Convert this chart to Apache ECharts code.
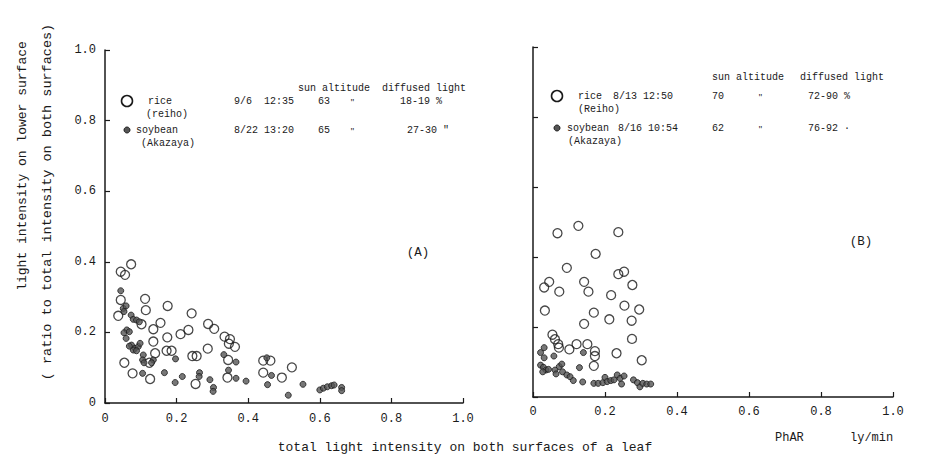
<!DOCTYPE html>
<html>
<head>
<meta charset="utf-8">
<script src="https://cdn.jsdelivr.net/npm/echarts@6/dist/echarts.min.js"></script>
<style>
html,body{margin:0;padding:0;background:#fff;}
#chart{width:935px;height:461px;}
</style>
</head>
<body>
<div id="chart"></div>
<script>
// ---- tick labels ----
const xTicks = ['0', '0.2', '0.4', '0.6', '0.8', '1.0'];
const yTicks = ['0', '0.2', '0.4', '0.6', '0.8', '1.0'];

// ---- panel (A): rice (Reiho) 9/6 12:35 ; soybean (Akazaya) 8/22 13:20 ----
const riceA = [
  [0.044,0.372],[0.056,0.363],[0.073,0.393],[0.044,0.292],[0.037,0.247],[0.112,0.295],
  [0.114,0.263],[0.102,0.223],[0.135,0.209],[0.155,0.227],[0.175,0.275],[0.135,0.174],
  [0.174,0.186],[0.140,0.141],[0.124,0.114],[0.172,0.148],[0.186,0.148],[0.054,0.114],
  [0.077,0.084],[0.126,0.068],[0.211,0.195],[0.233,0.207],[0.242,0.254],[0.244,0.133],
  [0.256,0.133],[0.253,0.054],[0.288,0.224],[0.305,0.210],[0.287,0.154],[0.334,0.188],
  [0.349,0.181],[0.346,0.168],[0.363,0.159],[0.344,0.122],[0.342,0.072],[0.442,0.120],
  [0.462,0.120],[0.442,0.086],[0.494,0.072],[0.522,0.101]
];
const soyA = [
  [0.044,0.318],[0.051,0.268],[0.059,0.275],[0.053,0.259],[0.073,0.249],[0.079,0.237],
  [0.088,0.235],[0.096,0.230],[0.061,0.207],[0.053,0.199],[0.068,0.202],[0.059,0.183],
  [0.074,0.164],[0.084,0.155],[0.093,0.160],[0.079,0.150],[0.088,0.148],[0.098,0.169],
  [0.068,0.161],[0.107,0.136],[0.105,0.122],[0.109,0.114],[0.135,0.122],[0.130,0.114],
  [0.105,0.084],[0.166,0.086],[0.197,0.125],[0.216,0.075],[0.196,0.058],[0.264,0.086],
  [0.263,0.075],[0.293,0.066],[0.303,0.044],[0.302,0.033],[0.332,0.137],[0.345,0.093],
  [0.366,0.116],[0.366,0.070],[0.394,0.062],[0.452,0.128],[0.465,0.078],[0.454,0.052],
  [0.512,0.022],[0.553,0.053],[0.600,0.037],[0.610,0.042],[0.621,0.046],[0.633,0.049],
  [0.640,0.051],[0.661,0.044],[0.661,0.035]
];

// ---- panel (B): rice (Reiho) 8/13 12:50 ; soybean (Akazaya) 8/16 10:54 ----
const riceB = [
  [0.126,0.489],[0.068,0.468],[0.237,0.471],[0.174,0.409],[0.094,0.369],[0.031,0.313],
  [0.045,0.329],[0.073,0.301],[0.142,0.329],[0.154,0.301],[0.237,0.351],[0.253,0.358],
  [0.276,0.320],[0.217,0.291],[0.033,0.247],[0.169,0.241],[0.254,0.261],[0.295,0.250],
  [0.212,0.222],[0.274,0.218],[0.142,0.209],[0.054,0.178],[0.061,0.165],[0.070,0.151],
  [0.072,0.141],[0.101,0.136],[0.121,0.151],[0.151,0.151],[0.172,0.131],[0.172,0.117],
  [0.169,0.089],[0.232,0.125],[0.275,0.166],[0.302,0.105]
];
const soyB = [
  [0.031,0.141],[0.021,0.127],[0.031,0.112],[0.058,0.117],[0.140,0.127],[0.021,0.091],
  [0.029,0.085],[0.036,0.077],[0.027,0.072],[0.043,0.079],[0.061,0.077],[0.064,0.066],
  [0.073,0.087],[0.080,0.094],[0.082,0.072],[0.094,0.063],[0.103,0.058],[0.112,0.047],
  [0.129,0.084],[0.138,0.043],[0.169,0.039],[0.181,0.039],[0.194,0.041],[0.200,0.056],
  [0.206,0.044],[0.216,0.047],[0.225,0.049],[0.234,0.063],[0.242,0.053],[0.246,0.037],
  [0.253,0.060],[0.279,0.049],[0.290,0.041],[0.297,0.029],[0.305,0.039],[0.316,0.037],
  [0.327,0.037]
];

// ---- legend table texts ----
const legendA = {
  head: ['sun altitude', 'diffused light'],
  rice: ['rice', '(reiho)', '9/6  12:35', '63', '"', '18-19 %'],
  soy:  ['soybean', '(Akazaya)', '8/22 13:20', '65', '"', '27-30 "']
};
const legendB = {
  head: ['sun altitude', 'diffused light'],
  rice: ['rice', '(Reiho)', '8/13 12:50', '70', '"', '72-90 %'],
  soy:  ['soybean', '(Akazaya)', '8/16 10:54', '62', '"', '76-92 \u00b7']
};

const FONT = '"Liberation Mono", "DejaVu Sans Mono", monospace';
const INK = '#1a1a1a';

const chart = echarts.init(document.getElementById('chart'), null, {renderer: 'svg', width: 935, height: 461});

function xAxisCfg(gi, margin) {
  return {
    type: 'value', gridIndex: gi, min: 0, max: 1, interval: 0.2,
    axisLine: {show: true, onZero: false, lineStyle: {color: INK, width: 1.5}},
    axisTick: {show: true, inside: true, length: 5, lineStyle: {color: INK, width: 1.2}},
    axisLabel: {show: true, margin: margin, fontFamily: FONT, fontSize: 12, color: INK,
      formatter: v => xTicks[Math.round(v / 0.2)]},
    splitLine: {show: false}
  };
}
function yAxisCfg(gi, showLabel) {
  return {
    type: 'value', gridIndex: gi, min: 0, max: 1, interval: 0.2,
    axisLine: {show: true, onZero: false, lineStyle: {color: INK, width: 1.5}},
    axisTick: {show: true, inside: true, length: 5, lineStyle: {color: INK, width: 1.2}},
    axisLabel: {show: showLabel, margin: 9, fontFamily: FONT, fontSize: 12, color: INK,
      formatter: v => yTicks[Math.round(v / 0.2)]},
    splitLine: {show: false}
  };
}

function txt(x, y, s, size, align) {
  return {
    type: 'text', x: x, y: y, silent: true,
    style: {text: s, font: size + 'px ' + FONT, fill: INK,
      align: align || 'left', verticalAlign: 'middle'}
  };
}

function legendGraphics(L, pos) {
  const g = [];
  const fs = 10;
  g.push(txt(pos.headX[0], pos.headY, L.head[0], fs));
  g.push(txt(pos.headX[1], pos.headY, L.head[1], fs));
  // symbols
  g.push({type: 'circle', silent: true, shape: {cx: pos.symX, cy: pos.riceY, r: 5.5},
    style: {fill: 'none', stroke: INK, lineWidth: 1.6}});
  g.push({type: 'circle', silent: true, shape: {cx: pos.symX, cy: pos.soyY, r: 3},
    style: {fill: '#555', stroke: INK, lineWidth: 1}});
  // rice row
  g.push(txt(pos.riceNameX, pos.riceY, L.rice[0], fs));
  g.push(txt(pos.sub1X, pos.riceY + 13, L.rice[1], fs));
  g.push(txt(pos.dateX, pos.riceY, L.rice[2], fs));
  g.push(txt(pos.altX, pos.riceY, L.rice[3], fs));
  g.push(txt(pos.dittoX, pos.riceY, L.rice[4], 8));
  g.push(txt(pos.difX, pos.riceY, L.rice[5], fs));
  // soybean row
  g.push(txt(pos.soyNameX, pos.soyY, L.soy[0], fs));
  g.push(txt(pos.sub2X, pos.soyY + 13, L.soy[1], fs));
  g.push(txt(pos.dateX2, pos.soyY, L.soy[2], fs));
  g.push(txt(pos.altX, pos.soyY, L.soy[3], fs));
  g.push(txt(pos.dittoX, pos.soyY, L.soy[4], 8));
  g.push(txt(pos.difX2, pos.soyY, L.soy[5], fs));
  return g;
}

const graphics = [].concat(
  legendGraphics(legendA, {headX: [298, 382], headY: 88, symX: 127, riceY: 101, soyY: 130,
    riceNameX: 148, sub1X: 146, soyNameX: 136, sub2X: 141, dateX: 234, dateX2: 234, altX: 318,
    dittoX: 350, difX: 400, difX2: 407}),
  legendGraphics(legendB, {headX: [712, 800], headY: 77, symX: 557, riceY: 96, soyY: 128,
    riceNameX: 578, sub1X: 578, soyNameX: 567, sub2X: 568, dateX: 613, dateX2: 618, altX: 712,
    dittoX: 758, difX: 808, difX2: 808}),
  [
    txt(418, 253, '(A)', 12.5, 'center'),
    txt(861, 242, '(B)', 12.5, 'center'),
    txt(465, 447, 'total light intensity on both surfaces of a leaf', 13, 'center'),
    txt(775, 438, 'PhAR', 12),
    txt(850, 438, 'ly/min', 12),
    {type: 'text', x: 22, y: 166, rotation: Math.PI / 2, silent: true,
      style: {text: 'light intensity on lower surface', font: '13px ' + FONT, fill: INK, align: 'center', verticalAlign: 'middle'}},
    {type: 'text', x: 47, y: 202, rotation: Math.PI / 2, silent: true,
      style: {text: '( ratio to total intensity on both surfaces)', font: '13.5px ' + FONT, fill: INK, align: 'center', verticalAlign: 'middle'}}
  ]
);

const riceStyle = {color: 'rgba(255,255,255,0)', borderColor: INK, borderWidth: 1.3};
const soyStyle = {color: '#555', borderColor: INK, borderWidth: 1};

chart.setOption({
  animation: false,
  backgroundColor: '#fff',
  grid: [
    {left: 105, top: 50, width: 358, height: 353},
    {left: 533, top: 47, width: 360, height: 350}
  ],
  xAxis: [xAxisCfg(0, 10), xAxisCfg(1, 9)],
  yAxis: [yAxisCfg(0, true), yAxisCfg(1, false)],
  series: [
    {name: 'rice (reiho)', type: 'scatter', xAxisIndex: 0, yAxisIndex: 0, data: riceA,
      symbol: 'circle', symbolSize: 9, itemStyle: riceStyle, z: 2},
    {name: 'soybean (Akazaya) A', type: 'scatter', xAxisIndex: 0, yAxisIndex: 0, data: soyA,
      symbol: 'circle', symbolSize: 6, itemStyle: soyStyle, z: 3},
    {name: 'rice (Reiho)', type: 'scatter', xAxisIndex: 1, yAxisIndex: 1, data: riceB,
      symbol: 'circle', symbolSize: 9, itemStyle: riceStyle, z: 2},
    {name: 'soybean (Akazaya) B', type: 'scatter', xAxisIndex: 1, yAxisIndex: 1, data: soyB,
      symbol: 'circle', symbolSize: 6, itemStyle: soyStyle, z: 3}
  ],
  graphic: graphics
});
</script>
</body>
</html>
